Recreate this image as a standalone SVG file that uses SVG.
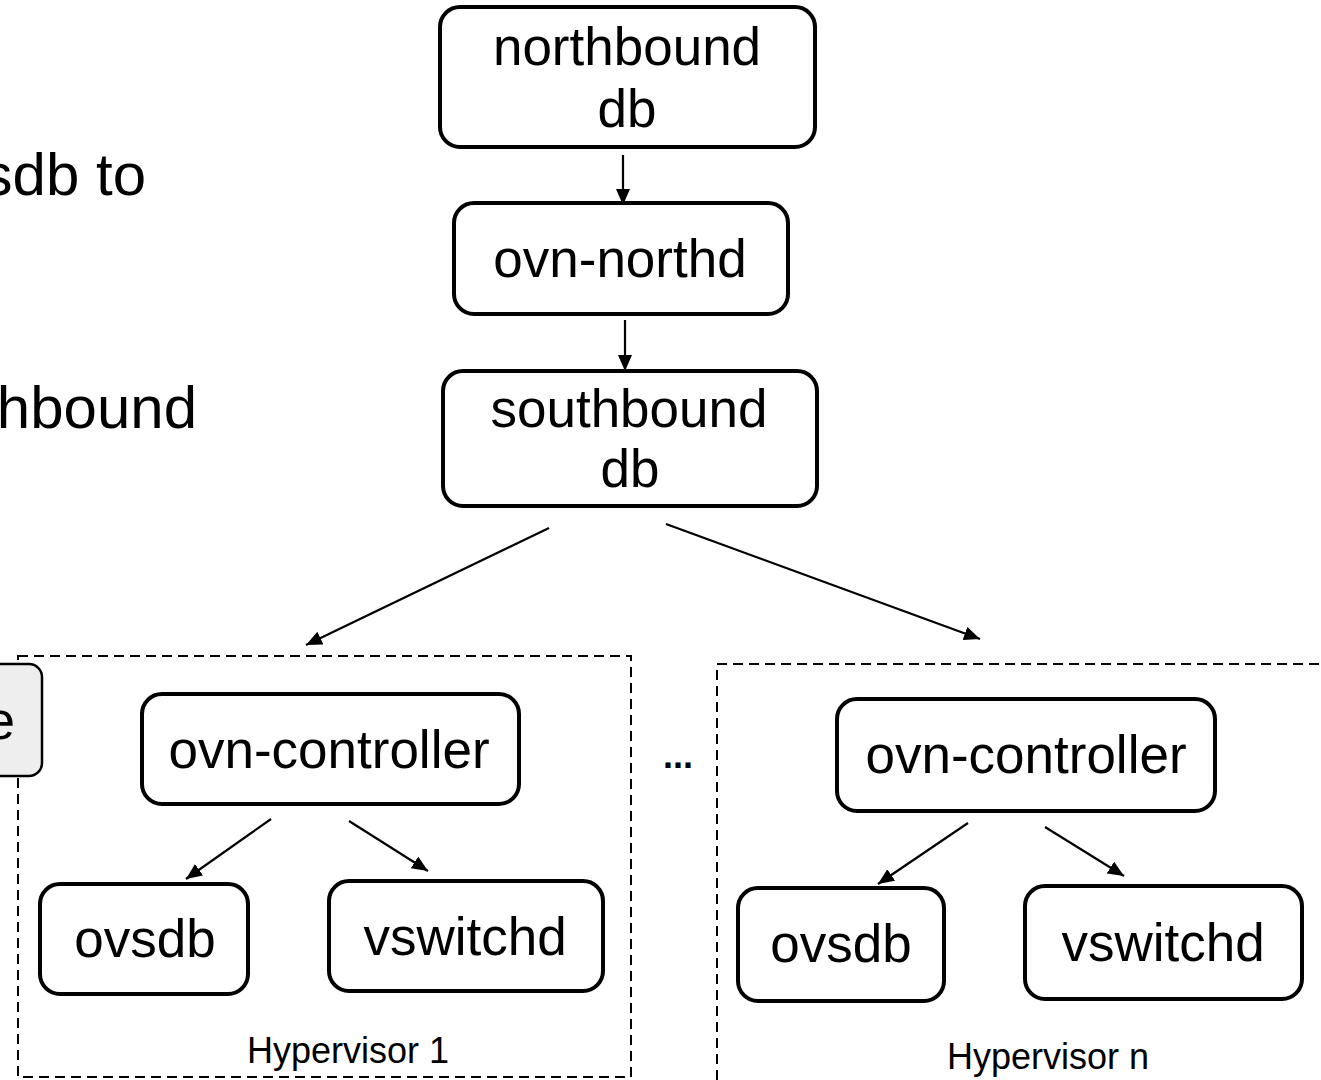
<svg xmlns="http://www.w3.org/2000/svg" width="1321" height="1080" viewBox="0 0 1321 1080">
  <defs>
    <marker id="arrow" markerUnits="userSpaceOnUse" markerWidth="18" markerHeight="16" refX="16" refY="7" orient="auto">
      <path d="M0,0 L16,7 L0,14 z" fill="#000"/>
    </marker>
    <style>
      text { font-family: "Liberation Sans", Arial, sans-serif; fill: #000; }
      .box { fill: #fff; stroke: #000; stroke-width: 4; }
      .grey { fill: #eeeeee; stroke: #000; stroke-width: 2.5; }
      .dash { fill: none; stroke: #000; stroke-width: 2; stroke-dasharray: 10 6; }
      .lbl { font-size: 53px; text-anchor: middle; }
      .big { font-size: 60px; text-anchor: end; }
      .hv { font-size: 36px; text-anchor: middle; }
      .conn line { stroke: #000; stroke-width: 2.2; marker-end: url(#arrow); }
    </style>
  </defs>
  <rect width="1321" height="1080" fill="#fff"/>

  <g id="bullet-text">
    <text class="big" x="146" y="195">sdb to</text>
    <text class="big" x="197" y="428">hbound</text>
  </g>

  <g id="hypervisor-1">
    <rect class="dash" x="18" y="656" width="613" height="421"/>
    <text class="hv" x="348" y="1063">Hypervisor 1</text>
  </g>
  <g id="hypervisor-n">
    <rect class="dash" x="717" y="664" width="640" height="440"/>
    <text class="hv" x="1048" y="1069">Hypervisor n</text>
  </g>

  <g id="partial-box">
    <rect class="grey" x="-40" y="664" width="82" height="112" rx="13"/>
    <text class="lbl" x="15" y="739" style="text-anchor:end">e</text>
  </g>

  <g id="northbound-db">
    <rect class="box" x="440" y="7" width="375" height="140" rx="20"/>
    <text class="lbl" x="627" y="65">northbound</text>
    <text class="lbl" x="627" y="127">db</text>
  </g>
  <g id="ovn-northd">
    <rect class="box" x="454" y="203" width="334" height="111" rx="20"/>
    <text class="lbl" x="620" y="277">ovn-northd</text>
  </g>
  <g id="southbound-db">
    <rect class="box" x="443" y="371" width="374" height="135" rx="20"/>
    <text class="lbl" x="629" y="427">southbound</text>
    <text class="lbl" x="630" y="487">db</text>
  </g>

  <g id="ovn-controller-1">
    <rect class="box" x="142" y="694" width="377" height="110" rx="20"/>
    <text class="lbl" x="329" y="768">ovn-controller</text>
  </g>
  <g id="ovsdb-1">
    <rect class="box" x="40" y="884" width="208" height="110" rx="20"/>
    <text class="lbl" x="145" y="957">ovsdb</text>
  </g>
  <g id="vswitchd-1">
    <rect class="box" x="329" y="881" width="274" height="110" rx="20"/>
    <text class="lbl" x="465" y="955">vswitchd</text>
  </g>

  <g id="ellipsis">
    <text x="663" y="768" style="font-size:36px;font-weight:bold">...</text>
  </g>

  <g id="ovn-controller-n">
    <rect class="box" x="837" y="699" width="378" height="112" rx="20"/>
    <text class="lbl" x="1026" y="773">ovn-controller</text>
  </g>
  <g id="ovsdb-n">
    <rect class="box" x="738" y="888" width="206" height="113" rx="20"/>
    <text class="lbl" x="841" y="962">ovsdb</text>
  </g>
  <g id="vswitchd-n">
    <rect class="box" x="1025" y="886" width="277" height="113" rx="20"/>
    <text class="lbl" x="1163" y="961">vswitchd</text>
  </g>

  <g id="connectors" class="conn">
    <line x1="623" y1="155" x2="623" y2="205"/>
    <line x1="625" y1="320" x2="625" y2="371"/>
    <line x1="549" y1="528" x2="306" y2="645"/>
    <line x1="666" y1="524" x2="980" y2="639"/>
    <line x1="271" y1="819" x2="186" y2="879"/>
    <line x1="349" y1="821" x2="428" y2="871"/>
    <line x1="968" y1="823" x2="878" y2="884"/>
    <line x1="1045" y1="827" x2="1124" y2="876"/>
  </g>
</svg>
